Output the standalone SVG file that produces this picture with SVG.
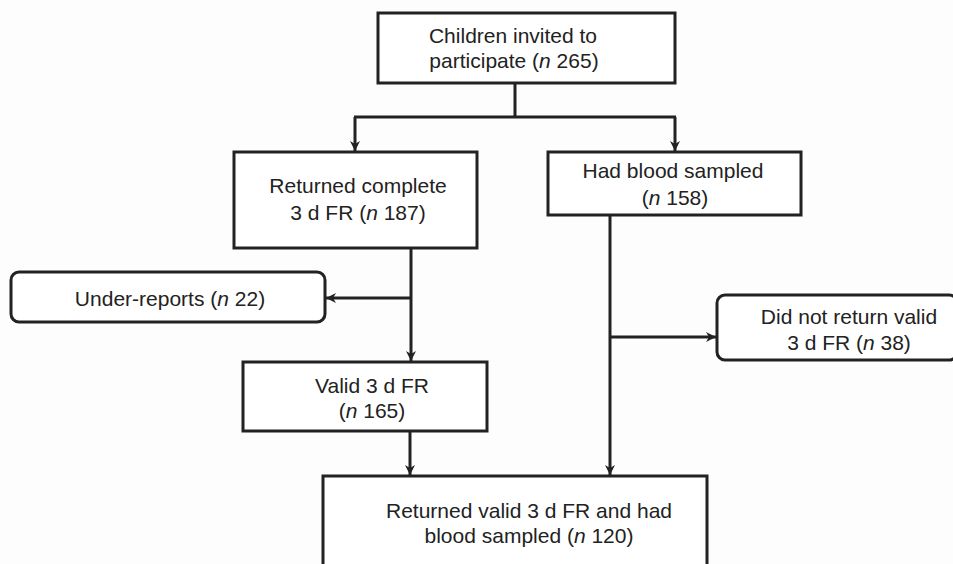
<svg xmlns="http://www.w3.org/2000/svg" width="953" height="564" viewBox="0 0 953 564">
<defs>
<style>
.box{fill:#ffffff;stroke:#222;stroke-width:3}
.t{font-family:"Liberation Sans",Arial,sans-serif;font-size:21px;fill:#222;text-anchor:middle}
.i{font-style:italic}
.c{fill:none;stroke:#222;stroke-width:3}
</style>
<marker id="ah" markerUnits="userSpaceOnUse" markerWidth="12" markerHeight="12" viewBox="0 0 12 12" refX="10" refY="6" orient="auto">
<path d="M0,1 L10,6 L0,11 L3,6 Z" fill="#222"/>
</marker>
</defs>
<rect width="953" height="564" fill="#fdfdfd"/>
<g id="connectors">
<line class="c" x1="515" y1="84" x2="515" y2="117"/>
<line class="c" x1="354" y1="117" x2="676" y2="117"/>
<line class="c" x1="355" y1="117" x2="355" y2="151" marker-end="url(#ah)"/>
<line class="c" x1="675" y1="117" x2="675" y2="151" marker-end="url(#ah)"/>
<line class="c" x1="411" y1="248" x2="411" y2="361" marker-end="url(#ah)"/>
<line class="c" x1="411" y1="298" x2="326" y2="298" marker-end="url(#ah)"/>
<line class="c" x1="610" y1="215" x2="610" y2="475" marker-end="url(#ah)"/>
<line class="c" x1="610" y1="337" x2="716" y2="337" marker-end="url(#ah)"/>
<line class="c" x1="410" y1="431" x2="410" y2="475" marker-end="url(#ah)"/>
</g>
<g id="n1">
<rect class="box" x="378" y="13" width="297" height="70"/>
<text class="t" x="513" y="43">Children invited to</text>
<text class="t" x="514" y="68">participate (<tspan class="i">n</tspan> 265)</text>
</g>
<g id="n2">
<rect class="box" x="234" y="152" width="243" height="96"/>
<text class="t" x="358" y="193">Returned complete</text>
<text class="t" x="358" y="220">3 d FR (<tspan class="i">n</tspan> 187)</text>
</g>
<g id="n3">
<rect class="box" x="548" y="152" width="253" height="63"/>
<text class="t" x="673" y="178">Had blood sampled</text>
<text class="t" x="675" y="205">(<tspan class="i">n</tspan> 158)</text>
</g>
<g id="n4">
<rect class="box" x="11" y="272" width="314" height="50" rx="8" ry="8"/>
<text class="t" x="170" y="306">Under-reports (<tspan class="i">n</tspan> 22)</text>
</g>
<g id="n5">
<rect class="box" x="717" y="295" width="240" height="65" rx="8" ry="8"/>
<text class="t" x="849" y="324">Did not return valid</text>
<text class="t" x="849" y="350">3 d FR (<tspan class="i">n</tspan> 38)</text>
</g>
<g id="n6">
<rect class="box" x="243" y="362" width="244" height="69"/>
<text class="t" x="372" y="393">Valid 3 d FR</text>
<text class="t" x="372" y="418">(<tspan class="i">n</tspan> 165)</text>
</g>
<g id="n7">
<rect class="box" x="323" y="476" width="384" height="92"/>
<text class="t" x="529" y="518">Returned valid 3 d FR and had</text>
<text class="t" x="529" y="543">blood sampled (<tspan class="i">n</tspan> 120)</text>
</g>
</svg>
